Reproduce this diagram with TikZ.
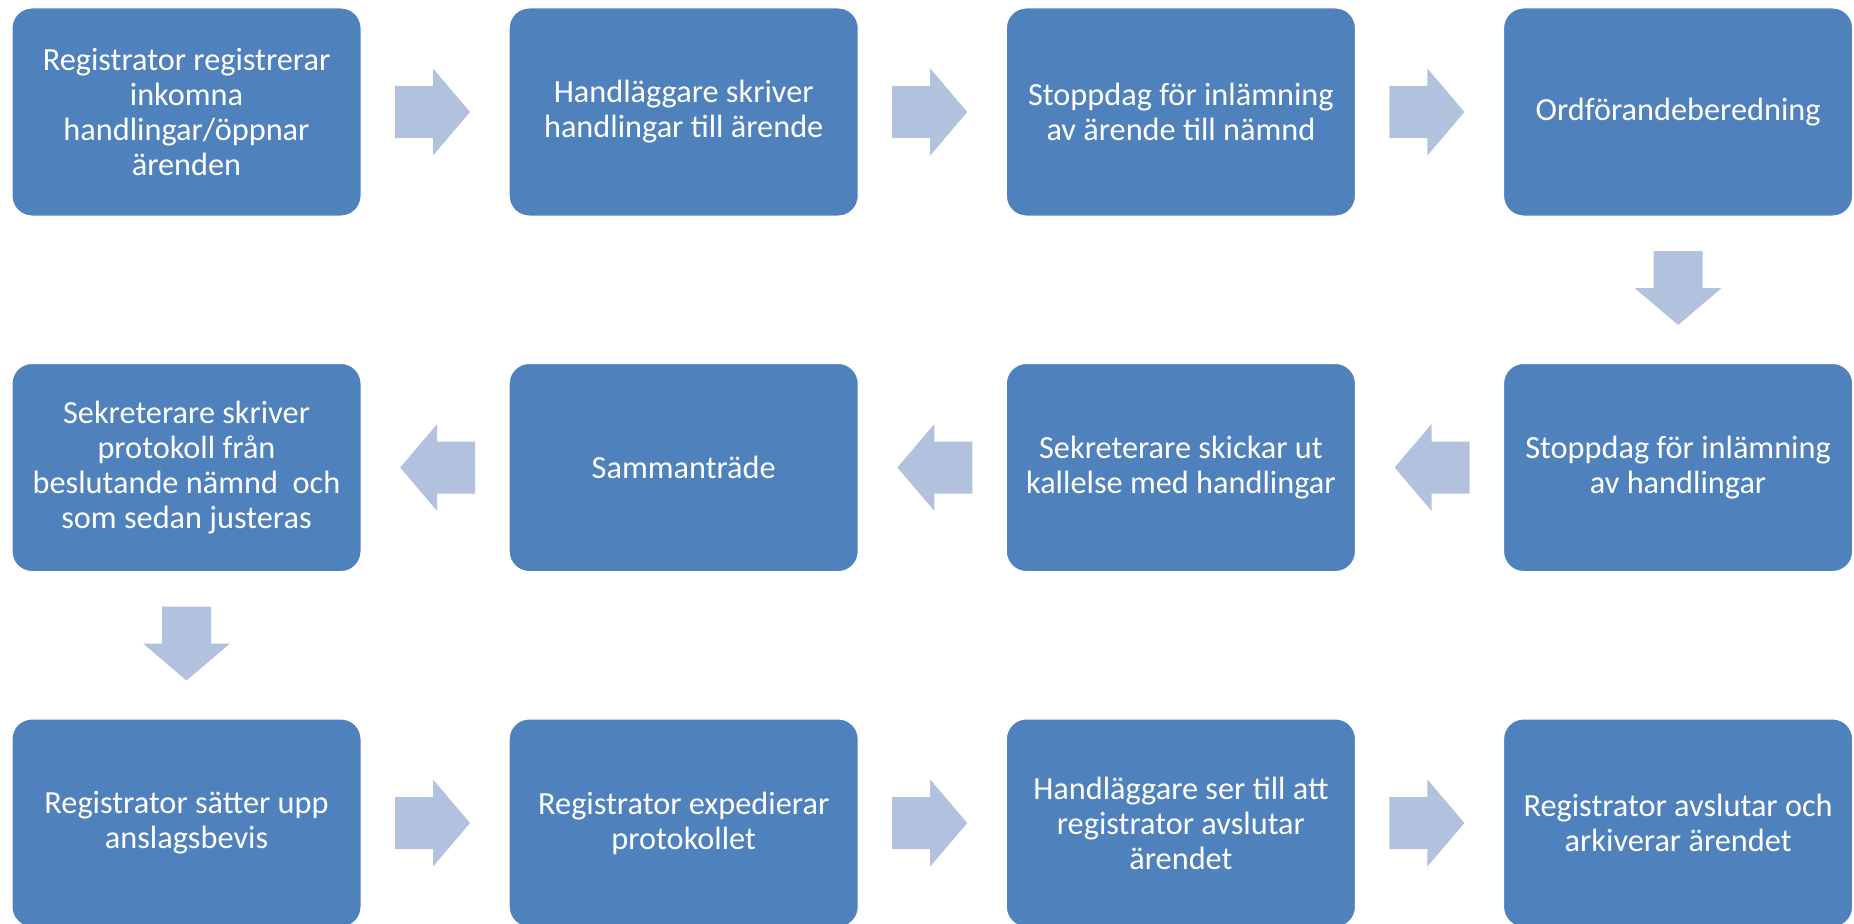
\documentclass[tikz,border=0pt]{standalone}
\usepackage{fontspec}
\setmainfont{Carlito}
\definecolor{boxblue}{RGB}{79,129,189}
\definecolor{arrowfill}{RGB}{178,193,222}
\tikzset{
  stepbox/.style={rectangle, rounded corners=20pt, fill=boxblue, draw=white, line width=1pt,
    minimum width=349pt, minimum height=208pt, outer sep=0pt, inner sep=0pt,
    text=white, align=center, font=\fontsize{32.3}{35}\selectfont},
  blockarrow/.style={fill=arrowfill}
}
% block arrow pointing right, starting right of node #1
\newcommand{\rightblock}[1]{%
  \fill[blockarrow] ([shift={(34,-26)}]#1.east) -- ++(38,0) -- ++(0,-17.5) -- ++(37,43.5)
    -- ++(-37,43.5) -- ++(0,-17.5) -- ++(-38,0) -- cycle;}
% block arrow pointing left, starting left of node #1
\newcommand{\leftblock}[1]{%
  \fill[blockarrow] ([shift={(-34,-26)}]#1.west) -- ++(-38,0) -- ++(0,-17.5) -- ++(-37,43.5)
    -- ++(37,43.5) -- ++(0,-17.5) -- ++(38,0) -- cycle;}
% block arrow pointing down, starting below node #1
\newcommand{\downblock}[1]{%
  \fill[blockarrow] ([shift={(-24.5,35)}]#1.south) -- ++(0,37) -- ++(-19,0) -- ++(43.5,37)
    -- ++(43.5,-37) -- ++(-19,0) -- ++(0,-37) -- cycle;}
\begin{document}
\begin{tikzpicture}[x=1pt,y=-1pt]
\useasboundingbox (0,0) rectangle (1854,923);
% row 1
\node[stepbox] (a1) at (186.5,112) {Registrator registrerar\\inkomna\\handlingar/öppnar\\ärenden};
\node[stepbox] (a2) at (683.7,112) {Handläggare skriver\\handlingar till ärende};
\node[stepbox] (a3) at (1180.9,112) {Stoppdag för inlämning\\av ärende till nämnd};
\node[stepbox] (a4) at (1678.1,112) {Ordförandeberedning};
% row 2
\node[stepbox] (b4) at (1678.1,467.5) {Stoppdag för inlämning\\av handlingar};
\node[stepbox] (b3) at (1180.9,467.5) {Sekreterare skickar ut\\kallelse med handlingar};
\node[stepbox] (b2) at (683.7,467.5) {Sammanträde};
\node[stepbox] (b1) at (186.5,467.5) {Sekreterare skriver\\protokoll från\\beslutande nämnd\ \ och\\som sedan justeras};
% row 3
\node[stepbox] (c1) at (186.5,823) {Registrator sätter upp\\anslagsbevis};
\node[stepbox] (c2) at (683.7,823) {Registrator expedierar\\protokollet};
\node[stepbox] (c3) at (1180.9,823) {Handläggare ser till att\\registrator avslutar\\ärendet};
\node[stepbox] (c4) at (1678.1,823) {Registrator avslutar och\\arkiverar ärendet};
% arrows
\rightblock{a1}
\rightblock{a2}
\rightblock{a3}
\downblock{a4}
\leftblock{b4}
\leftblock{b3}
\leftblock{b2}
\downblock{b1}
\rightblock{c1}
\rightblock{c2}
\rightblock{c3}
\end{tikzpicture}
\end{document}
